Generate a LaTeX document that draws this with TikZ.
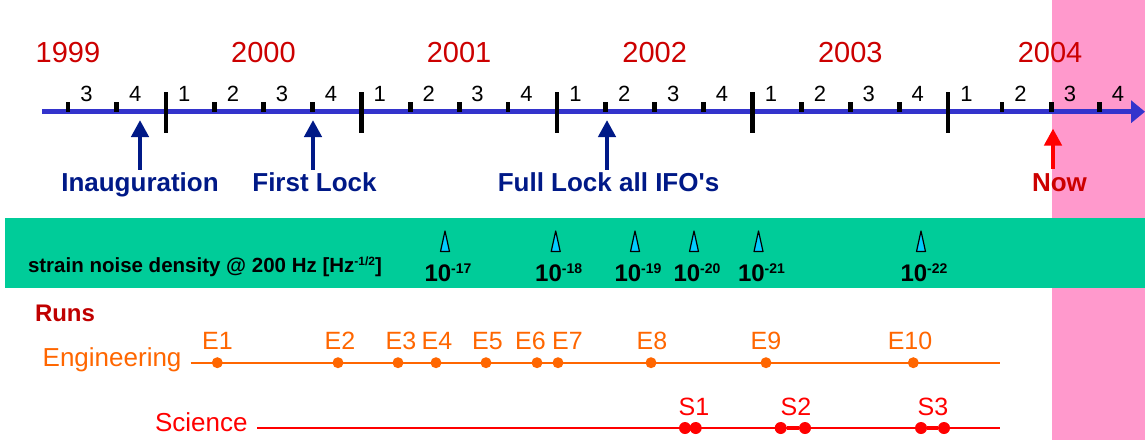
\documentclass[tikz,border=0pt]{standalone}
\usepackage{fontspec}
\setmainfont{Liberation Sans}
\newfontfamily\rawsans{Liberation Sans}[Ligatures=TeXOff]
\usetikzlibrary{arrows.meta}
\definecolor{axisblue}{RGB}{51,51,204}
\definecolor{yearred}{RGB}{204,0,0}
\definecolor{navyblue}{RGB}{0,25,135}
\definecolor{nowred}{RGB}{255,0,0}
\definecolor{bandgreen}{RGB}{0,204,153}
\definecolor{pinkbg}{RGB}{255,153,204}
\definecolor{tricyan}{RGB}{0,204,255}
\definecolor{engorange}{RGB}{255,102,0}
\definecolor{runsred}{RGB}{192,0,0}
\definecolor{scired}{RGB}{255,0,0}
\newcommand\fsz[1]{\fontsize{#1}{#1}\selectfont}
\begin{document}
\begin{tikzpicture}[x=1pt,y=-1pt,
  every node/.style={inner sep=0pt,outer sep=0pt},
  yearlabel/.style={font=\fsz{29}, text=yearred, anchor=base},
  qlabel/.style={font=\fsz{22}, anchor=base},
  annot/.style={font=\rawsans\fsz{26}\bfseries, anchor=base},
  markarrow/.style={line width=4.5pt, -{Triangle[length=17pt,width=17pt]}},
  powlabel/.style={font=\fsz{24}\bfseries, anchor=base},
  noisemark/.style={draw=black, fill=tricyan, line width=1.2pt, line join=round},
  runlabel/.style={font=\fsz{26}, anchor=base west},
  elabel/.style={font=\fsz{25}, text=engorange, anchor=base},
  slabel/.style={font=\fsz{25}, text=scired, anchor=base},
  edot/.style={circle, fill=engorange, minimum size=11pt},
  sdot/.style={circle, fill=scired, minimum size=12pt}]
\useasboundingbox (0,0) rectangle (1145,440);
% backgrounds
\fill[pinkbg] (1052,0) rectangle (1145,440);
\fill[bandgreen] (5,218) rectangle (1145,288);
% time axis
\coordinate (axstart) at (42,111.7);
\coordinate (axend) at (1145,111.7);
\draw[axisblue, line width=5pt, -{Triangle[length=14pt,width=22pt]}] (axstart) -- (axend);
% year ticks
\foreach \x in {165.7,361.3,556.9,752.5,948.1}
  \fill[black] (\x-2.2,91.7) rectangle (\x+2.2,132.7);
% quarter ticks
\foreach \x in {67.9,116.8,214.6,263.5,312.4,410.2,459.1,508,605.8,654.7,703.6,801.4,850.3,899.2,1002,1051.5,1099.5}
  \fill[black] (\x-2.4,101.7) rectangle (\x+2.4,112.3);
% quarter labels
\foreach \x/\q [count=\i] in {67.9/3,116.8/4,165.7/1,214.6/2,263.5/3,312.4/4,361.3/1,410.2/2,459.1/3,508/4,556.9/1,605.8/2,654.7/3,703.6/4,752.5/1,801.4/2,850.3/3,899.2/4,948.1/1,1002/2,1051.5/3,1099.5/4}
  \node[qlabel] (q\i) at (\x+18.5,101) {\q};
% years
\node[yearlabel] (y1999) at (67.9,62.3) {1999};
\node[yearlabel] (y2000) at (263.5,62.3) {2000};
\node[yearlabel] (y2001) at (459.1,62.3) {2001};
\node[yearlabel] (y2002) at (654.7,62.3) {2002};
\node[yearlabel] (y2003) at (850.3,62.3) {2003};
\node[yearlabel] (y2004) at (1050,62.3) {2004};
% milestones
\node[annot, text=navyblue] (inaug) at (140,191.7) {Inauguration};
\node[annot, text=navyblue] (first) at (314.5,191.7) {First Lock};
\node[annot, text=navyblue] (full) at (608.5,191.7) {Full Lock all IFO's};
\node[annot, text=yearred] (now) at (1059.5,191.7) {Now};
\coordinate (inaugtip) at (140,120);
\coordinate (firsttip) at (313,120);
\coordinate (fulltip) at (607,120);
\coordinate (nowtip) at (1053,128.5);
\draw[markarrow, navyblue] ([yshift=3pt]inaug.north -| inaugtip) -- (inaugtip);
\draw[markarrow, navyblue] ([yshift=3pt]first.north -| firsttip) -- (firsttip);
\draw[markarrow, navyblue] ([yshift=3pt]full.north -| fulltip) -- (fulltip);
\draw[markarrow, nowred] ([yshift=5pt]now.north -| nowtip) -- (nowtip);
% strain noise band
\node[font=\fsz{20.5}\bfseries, anchor=base west] (strain) at (28,272)
  {strain noise density @ 200 Hz [Hz\raisebox{7pt}{\fsz{12}-1/2}]};
\foreach \x/\p in {445/17,555.7/18,635/19,694/20,758.5/21,921/22}{
  \draw[noisemark] (\x,231) -- (\x+4.5,251.5) -- (\x-4.5,251.5) -- cycle;
  \node[powlabel] (p\p) at (\x+3,281) {10\raisebox{8pt}{\fsz{14}-\p}};
}
% runs
\node[font=\fsz{24}\bfseries, text=runsred, anchor=base west] (runs) at (35,321) {Runs};
\node[runlabel, text=engorange] (eng) at (42.7,366.7) {Engineering};
\node[runlabel, text=scired] (sci) at (155,431.7) {Science};
\coordinate (engstart) at (190.7,362.7);
\coordinate (engend) at (1000,362.7);
\coordinate (scistart) at (257,428);
\coordinate (sciend) at (1000,428);
\draw[engorange, line width=2pt] (engstart) -- (engend);
\draw[scired, line width=2pt] (scistart) -- (sciend);
\foreach \x/\lx/\n in {217.3/217.5/1,338/340/2,398/401/3,436/437/4,486/487.5/5,537/530.5/6,558/567.5/7,651/652/8,766/766/9,913.3/910/10}{
  \node[edot] (e\n) at (\x,362.7) {};
  \node[elabel] (el\n) at (\lx,349.3) {E\n};
}
% science runs
\node[sdot] (s1a) at (685,428) {};
\node[sdot] (s1b) at (695.7,428) {};
\node[sdot] (s2a) at (780.7,428) {};
\node[sdot] (s2b) at (805,428) {};
\node[sdot] (s3a) at (921,428) {};
\node[sdot] (s3b) at (944,428) {};
\draw[scired, line width=4pt] (s1a) -- (s1b);
\draw[scired, line width=4pt] (s2a) -- (s2b);
\draw[scired, line width=4pt] (s3a) -- (s3b);
\node[slabel] (sl1) at (694,415) {S1};
\node[slabel] (sl2) at (796,415) {S2};
\node[slabel] (sl3) at (933,415) {S3};
\end{tikzpicture}
\end{document}
